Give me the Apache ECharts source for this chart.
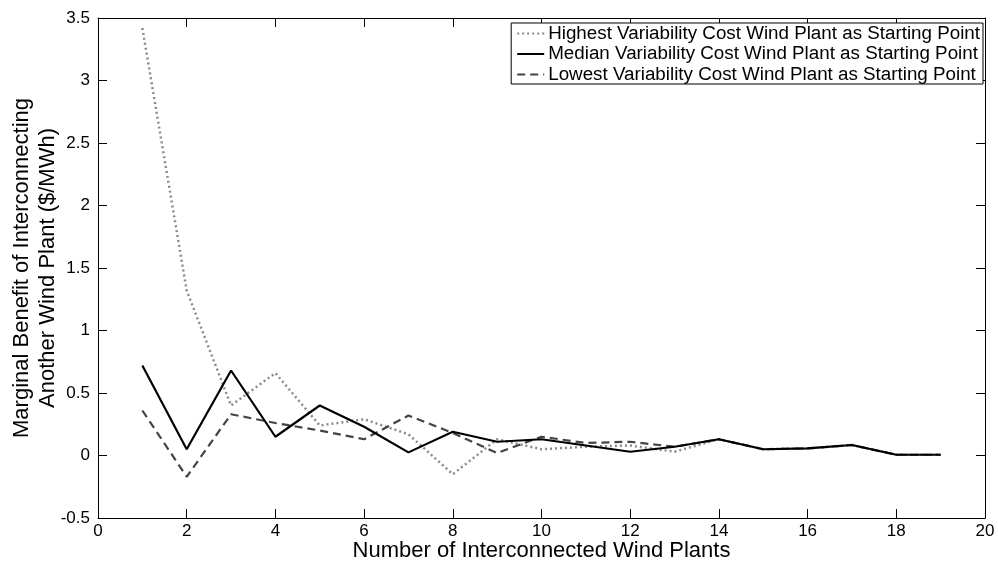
<!DOCTYPE html>
<html><head><meta charset="utf-8">
<script src="https://cdn.jsdelivr.net/npm/echarts@6/dist/echarts.min.js"></script>
<style>html,body{margin:0;padding:0;background:#fff}#c{width:998px;height:564px}</style>
</head><body><div id="c"></div>
<script>
const plants = [1,2,3,4,5,6,7,8,9,10,11,12,13,14,15,16,17,18,19];
const highest = [3.42,1.32,0.40,0.66,0.24,0.29,0.17,-0.15,0.13,0.05,0.07,0.08,0.03,0.13,0.05,0.057,0.084,0.006,0.006];
const median  = [0.72,0.05,0.68,0.15,0.40,0.23,0.025,0.19,0.11,0.13,0.08,0.03,0.07,0.13,0.05,0.057,0.084,0.006,0.006];
const lowest  = [0.36,-0.17,0.33,0.26,0.20,0.13,0.32,0.18,0.02,0.15,0.10,0.11,0.07,0.13,0.05,0.057,0.084,0.006,0.006];
const names = ['Highest Variability Cost Wind Plant as Starting Point','Median Variability Cost Wind Plant as Starting Point','Lowest Variability Cost Wind Plant as Starting Point'];
const yTitle = 'Marginal Benefit of Interconnecting\nAnother Wind Plant ($/MWh)';
const xTitle = 'Number of Interconnected Wind Plants';

const font = 'Liberation Sans, Arial, sans-serif';
const chart = echarts.init(document.getElementById('c'));
const axisLine = {show:true, onZero:false, lineStyle:{color:'#000', width:1}};
const tick = {show:true, inside:true, length:9, lineStyle:{color:'#000'}};
const zip = a => plants.map((x,i)=>[x,a[i]]);
chart.setOption({
  animation:false,
  backgroundColor:'#fff',
  grid:{left:98, right:13, top:18, bottom:46, containLabel:false, outerBoundsMode:'none'},
  legend:{
    orient:'vertical', right:15, top:23, align:'left',
    borderColor:'#000', borderWidth:1, padding:[1,3,0,5], itemGap:1.5,
    itemWidth:27, itemHeight:18, backgroundColor:'#fff',
    itemStyle:{opacity:0},
    textStyle:{fontFamily:font, fontSize:18.8, lineHeight:18, color:'#000', padding:[0,0,0,-1]},
    data:names
  },
  xAxis:[{
    type:'value', min:0, max:20, interval:2, position:'bottom',
    axisLine, axisTick:tick, splitLine:{show:false},
    axisLabel:{fontFamily:font, fontSize:17, color:'#000', margin:5},
    name:xTitle, nameLocation:'middle', nameGap:22, nameMoveOverlap:false,
    nameTextStyle:{fontFamily:font, fontSize:22, color:'#000'}
  },{
    type:'value', min:0, max:20, interval:2, position:'top',
    axisLine, axisTick:tick, axisLabel:{show:false}, splitLine:{show:false}
  }],
  yAxis:[{
    type:'value', min:-0.5, max:3.5, interval:0.5, position:'left',
    axisLine, axisTick:tick, splitLine:{show:false},
    axisLabel:{fontFamily:font, fontSize:17, color:'#000', margin:8},
    name:yTitle, nameLocation:'middle', nameGap:37, nameMoveOverlap:false,
    nameTextStyle:{fontFamily:font, fontSize:22, color:'#000', lineHeight:26}
  },{
    type:'value', min:-0.5, max:3.5, interval:0.5, position:'right',
    axisLine, axisTick:tick, axisLabel:{show:false}, splitLine:{show:false}
  }],
  series:[
    {name:names[0], type:'line', data:zip(highest), symbol:'none', z:2,
     lineStyle:{color:'#8a8a8a', width:2.5, type:[2,3]}, itemStyle:{color:'#8a8a8a'}},
    {name:names[1], type:'line', data:zip(median), symbol:'none', z:4,
     lineStyle:{color:'#000', width:2.2, type:'solid'}, itemStyle:{color:'#000'}},
    {name:names[2], type:'line', data:zip(lowest), symbol:'none', z:3,
     lineStyle:{color:'#444', width:2.2, type:[8,5]}, itemStyle:{color:'#444'}}
  ]
});
</script></body></html>
